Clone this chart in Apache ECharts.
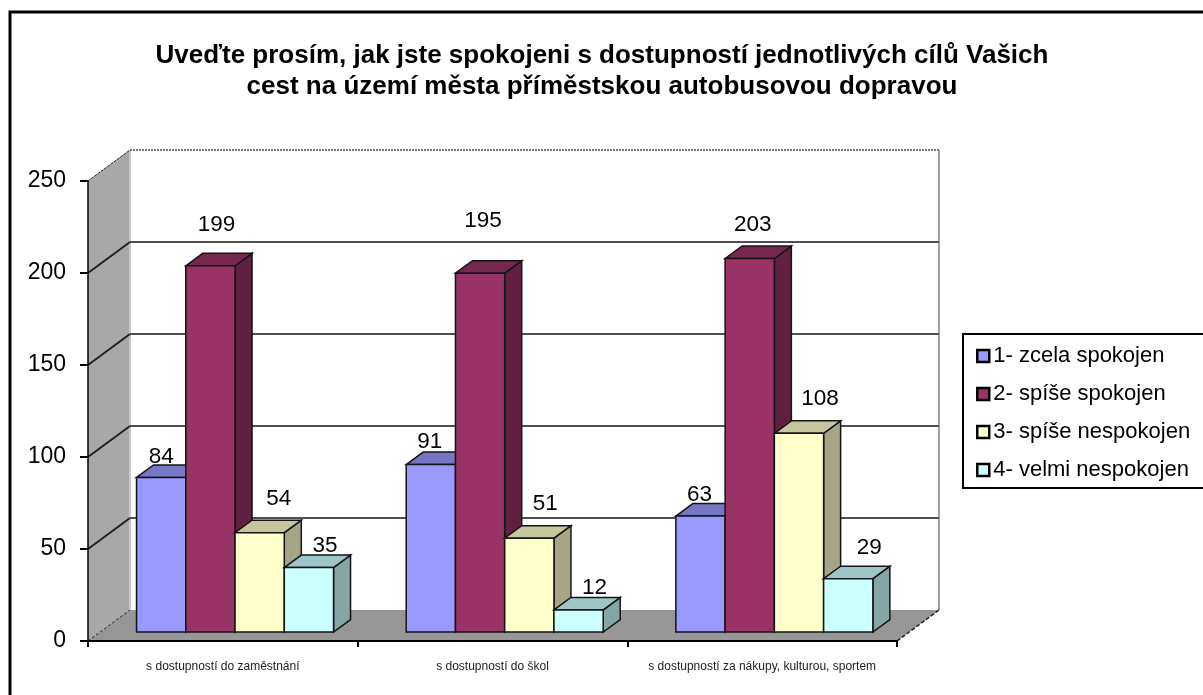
<!DOCTYPE html>
<html><head><meta charset="utf-8">
<style>html,body{margin:0;padding:0;background:#fff}#c{width:1203px;height:695px}</style>
<script src="https://cdn.jsdelivr.net/npm/echarts@6/dist/echarts.min.js"></script></head>
<body><div id="c"></div>
<script>
const categories = ['s dostupností do zaměstnání', 's dostupností do škol', 's dostupností za nákupy, kulturou, sportem'];
const seriesNames = ['1- zcela spokojen', '2- spíše spokojen', '3- spíše nespokojen', '4- velmi nespokojen'];
const zcelaSpokojen = [84, 91, 63];
const spiseSpokojen = [199, 195, 203];
const spiseNespokojen = [54, 51, 108];
const velmiNespokojen = [35, 12, 29];
const yTicks = [0, 50, 100, 150, 200, 250];
const titleText = 'Uveďte prosím, jak jste spokojeni s dostupností jednotlivých cílů Vašich\ncest na území města příměstskou autobusovou dopravou';

const allValues = [zcelaSpokojen, spiseSpokojen, spiseNespokojen, velmiNespokojen];
const faces = [
  { front: '#9999FF', top: '#7676C6', side: '#6464A6' },
  { front: '#993366', top: '#772850', side: '#602040' },
  { front: '#FFFFCC', top: '#C6C69E', side: '#A6A686' },
  { front: '#CCFFFF', top: '#9EC6C6', side: '#86A6A6' }
];
// label placement relative to the bar's front-top centre
const labelNudge = [
  [[0, -21], [-1, -23], [-1, -21]],
  [[6, -41], [3, -52], [3, -34]],
  [[19, -34], [16, -34], [21, -34]],
  [[16, -22], [16, -22], [21, -31]]
];
const WALL_DX = 42, WALL_DY = -31;       // back wall offset
const BAR_DX = 12.2, BAR_DY = -9;        // bar plane offset from the front edge
const DEPTH_DX = 17, DEPTH_DY = -12.5;   // bar depth
const BAR_W = 49.25;
const EDGE = '#141414';
const FONT = '"Liberation Sans", Arial, sans-serif';

function poly(points, fill, stroke, lw) {
  return { type: 'polygon', shape: { points }, style: { fill, stroke: stroke || null, lineWidth: lw || 0 } };
}
function line(x1, y1, x2, y2, stroke, lw, dash) {
  return { type: 'line', shape: { x1, y1, x2, y2 }, style: { stroke, lineWidth: lw, lineDash: dash || null, fill: null } };
}

function barSeries(s) {
  return {
    type: 'custom',
    name: seriesNames[s],
    coordinateSystem: 'cartesian2d',
    itemStyle: { color: faces[s].front, borderColor: '#000', borderWidth: 2.5 },
    z: 3 + s,
    encode: { x: 0, y: 1 },
    data: allValues[s].map((v, i) => [i, v]),
    renderItem(params, api) {
      const cat = api.value(0), val = api.value(1);
      const c = api.coord([cat, val]);
      const b = api.coord([cat, 0]);
      const x0 = c[0] + BAR_DX + (s - 2) * BAR_W, x1 = x0 + BAR_W;
      const yt = c[1] + BAR_DY, yb = b[1] + BAR_DY;
      const f = faces[s];
      const n = labelNudge[s][params.dataIndex];
      return {
        type: 'group',
        children: [
          poly([[x1, yt], [x1 + DEPTH_DX, yt + DEPTH_DY], [x1 + DEPTH_DX, yb + DEPTH_DY], [x1, yb]], f.side, EDGE, 1.5),
          poly([[x0, yt], [x0 + DEPTH_DX, yt + DEPTH_DY], [x1 + DEPTH_DX, yt + DEPTH_DY], [x1, yt]], f.top, EDGE, 1.5),
          poly([[x0, yt], [x1, yt], [x1, yb], [x0, yb]], f.front, EDGE, 1.5),
          { type: 'text', z2: 200, style: {
              text: String(val), x: (x0 + x1) / 2 + n[0], y: yt + n[1],
              align: 'center', verticalAlign: 'middle',
              font: '22.5px ' + FONT, fill: '#000' } }
        ]
      };
    }
  };
}

const wallSeries = {
  type: 'custom',
  name: 'walls',
  coordinateSystem: 'cartesian2d',
  z: 1,
  silent: true,
  encode: { y: 0 },
  data: yTicks.map(t => [t]),
  renderItem(params, api) {
    const t = api.value(0);
    const L = params.coordSys.x, R = params.coordSys.x + params.coordSys.width;
    const y = api.coord([0, t])[1];
    const out = [];
    if (t === 0) {
      const top = api.coord([0, yTicks[yTicks.length - 1]])[1];
      out.push(poly([[L, y], [L + WALL_DX, y + WALL_DY], [L + WALL_DX, top + WALL_DY], [L, top]], '#A8A8A8'));
      out.push(poly([[L, y], [L + WALL_DX, y + WALL_DY], [R + WALL_DX, y + WALL_DY], [R, y]], '#969696'));
      out.push(line(L + WALL_DX, y + WALL_DY, L + WALL_DX, top + WALL_DY, '#C8C8C8', 2));
      out.push(line(R + WALL_DX, y + WALL_DY, R + WALL_DX, top + WALL_DY, '#A0A0A0', 2));
      out.push(line(L, y, L + WALL_DX, y + WALL_DY, '#222', 1, [3, 2]));
      out.push(line(R, y, R + WALL_DX, y + WALL_DY, '#222', 1.5, [4, 2]));
    } else {
      const top = t === yTicks[yTicks.length - 1];
      out.push(line(L, y, L + WALL_DX, y + WALL_DY, '#222', top ? 1 : 2, top ? [3, 1] : null));
      out.push(line(L + WALL_DX, y + WALL_DY, R + WALL_DX, y + WALL_DY, top ? '#777' : '#505050', 2, top ? [2, 1] : null));
    }
    return { type: 'group', children: out };
  }
};

const chart = echarts.init(document.getElementById('c'), null, { renderer: 'canvas' });
chart.setOption({
  animation: false,
  backgroundColor: '#fff',
  textStyle: { fontFamily: FONT },
  title: {
    text: titleText, left: 597, top: 35, textAlign: 'center',
    textStyle: { fontFamily: FONT, fontSize: 26, fontWeight: 'bold', color: '#000', lineHeight: 31 }
  },
  legend: {
    data: seriesNames, orient: 'vertical', left: 963, top: 334, icon: 'rect',
    padding: [11, 60, 7, 13], itemGap: 16, itemWidth: 12, itemHeight: 12,
    backgroundColor: '#fff', borderColor: '#000', borderWidth: 2,
    itemStyle: { borderColor: '#000', borderWidth: 2.5 },
    textStyle: { fontSize: 22, color: '#000', fontFamily: FONT, padding: [0, 0, 0, -1] },
    selectedMode: false
  },
  grid: { left: 88, right: 306, top: 181, bottom: 54, containLabel: false },
  xAxis: {
    type: 'category', data: categories, z: 10,
    axisLine: { show: true, lineStyle: { color: '#000', width: 2 } },
    axisTick: { show: true, length: 6, alignWithLabel: false, lineStyle: { color: '#000', width: 2 } },
    axisLabel: { fontSize: 12, color: '#222', margin: 20, interval: 0 },
    splitLine: { show: false }
  },
  yAxis: {
    type: 'value', min: 0, max: 250, interval: 50, z: 10,
    axisLine: { show: true, lineStyle: { color: '#000', width: 1.5 } },
    axisTick: { show: true, length: 8, lineStyle: { color: '#000', width: 2 } },
    axisLabel: { fontSize: 23, color: '#000', margin: 22, verticalAlign: 'middle', lineHeight: 27, padding: [4, 0, 0, 0] },
    splitLine: { show: false }
  },
  graphic: [{
    type: 'rect', z: -10, silent: true,
    shape: { x: 10, y: 12, width: 1300, height: 800 },
    style: { fill: '#fff', stroke: '#000', lineWidth: 3 }
  }],
  series: [wallSeries].concat(seriesNames.map((_, s) => barSeries(s)))
});
</script></body></html>
